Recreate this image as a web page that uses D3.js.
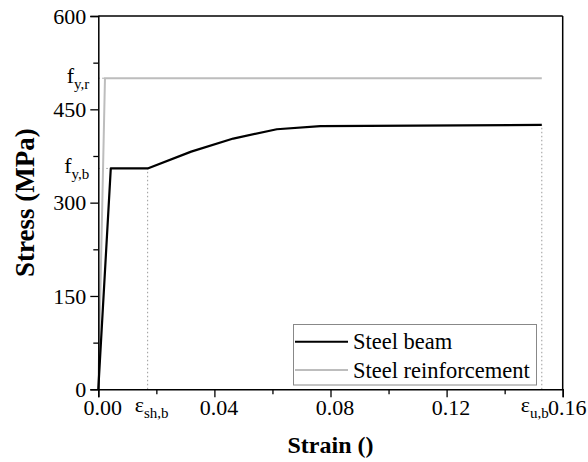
<!DOCTYPE html>
<html>
<head>
<meta charset="utf-8">
<script src="https://cdn.jsdelivr.net/npm/d3@7"></script>
<style>
html,body{margin:0;padding:0;background:#fff;}
svg{display:block;}
</style>
</head>
<body>
<svg id="chart" width="588" height="462"></svg>
<script>
// Data
const beamStrain = [0, 0.0043, 0.017, 0.032, 0.0465, 0.0615, 0.0765, 0.1528];
const beamStress = [0, 355, 355, 382, 403, 418, 423, 425];
const rebarStrain = [0, 0.0023, 0.1528];
const rebarStress = [0, 500, 500];
const xTicks = [0, 0.04, 0.08, 0.12, 0.16];
const xTickLabels = ["0.00", "0.04", "0.08", "0.12", "0.16"];
const xMinor = [0.02, 0.06, 0.10, 0.14];
const yTicks = [0, 150, 300, 450, 600];
const yMinor = [75, 225, 375, 525];
const fyb = 355, fyr = 500, epsSh = 0.017, epsU = 0.1528, fu = 425;
const seriesNames = ["Steel beam", "Steel reinforcement"];

const FONT = "'Liberation Serif', 'Times New Roman', Times, serif";
const svg = d3.select("#chart");
const L = 98.3, R = 562.7, T = 16, B = 389.3;
const x = d3.scaleLinear().domain([0, 0.16]).range([L, R]);
const y = d3.scaleLinear().domain([0, 600]).range([B, T]);

// dotted reference lines
const dot = svg.append("g").attr("stroke", "#999").attr("stroke-width", 1).attr("stroke-dasharray", "1.5,2.5").attr("fill", "none");
dot.append("line").attr("x1", x(epsSh)).attr("x2", x(epsSh)).attr("y1", y(0)).attr("y2", y(fyb));
dot.append("line").attr("x1", x(epsU)).attr("x2", x(epsU)).attr("y1", y(0)).attr("y2", y(fu));
dot.append("line").attr("x1", x(0)).attr("x2", x(0.0043)).attr("y1", y(fyb)).attr("y2", y(fyb));
dot.append("line").attr("x1", x(0)).attr("x2", x(0.0023)).attr("y1", y(fyr)).attr("y2", y(fyr));

// series
const line = d3.line().x(d => x(d[0])).y(d => y(d[1]));
svg.append("path").datum(rebarStrain.map((s, i) => [s, rebarStress[i]]))
  .attr("d", line).attr("fill", "none").attr("stroke", "#bdbdbd").attr("stroke-width", 2);
svg.append("path").datum(beamStrain.map((s, i) => [s, beamStress[i]]))
  .attr("d", line).attr("fill", "none").attr("stroke", "#000").attr("stroke-width", 2.2).attr("stroke-linejoin", "round");

// axes
const fs = 22;
const xAxis = svg.append("g").attr("transform", `translate(0,${B})`)
  .call(d3.axisBottom(x).tickValues(xTicks).tickFormat((d, i) => xTickLabels[i]).tickSize(8).tickPadding(2));
svg.append("g").attr("transform", `translate(0,${B})`)
  .call(d3.axisBottom(x).tickValues(xMinor).tickFormat("").tickSize(5))
  .call(g => g.select(".domain").remove());
xAxis.selectAll("text").attr("dx", 4).attr("dy", "0.71em");

const yAxis = svg.append("g").attr("transform", `translate(${L},0)`)
  .call(d3.axisLeft(y).tickValues(yTicks).tickSize(8).tickPadding(4));
svg.append("g").attr("transform", `translate(${L},0)`)
  .call(d3.axisLeft(y).tickValues(yMinor).tickFormat("").tickSize(5))
  .call(g => g.select(".domain").remove());

svg.selectAll(".tick text").attr("font-size", null).attr("fill", "#000")
  .style("font-family", FONT).style("font-size", fs + "px");
svg.selectAll(".domain").attr("stroke-width", 1.5);
svg.selectAll(".tick line").attr("stroke-width", 1.3);

// frame top & right
svg.append("line").attr("x1", L).attr("x2", R).attr("y1", T).attr("y2", T).attr("stroke", "#000").attr("stroke-width", 1.5);
svg.append("line").attr("x1", R).attr("x2", R).attr("y1", T).attr("y2", B).attr("stroke", "#000").attr("stroke-width", 1.5);

// special labels
function subLabel(xp, yp, anchor, main, sub) {
  const t = svg.append("text").attr("x", xp).attr("y", yp).attr("text-anchor", anchor)
    .style("font-family", FONT).style("font-size", fs + "px");
  t.append("tspan").text(main);
  t.append("tspan").style("font-size", "15px").attr("dy", 6).text(sub);
  return t;
}
subLabel(x(epsSh) + 4, 412, "middle", "ε", "sh,b");
subLabel(x(epsU) + 7, 412, "end", "ε", "u,b");
subLabel(L - 9, y(fyr) + 5, "end", "f", "y,r");
subLabel(L - 9, y(fyb) + 5, "end", "f", "y,b");

// axis titles
svg.append("text").attr("x", (L + R) / 2).attr("y", 453).attr("text-anchor", "middle")
  .style("font-family", FONT).style("font-size", "24px").style("font-weight", "bold").text("Strain ()");
svg.append("text").attr("transform", `translate(34,${(T + B) / 2}) rotate(-90)`).attr("text-anchor", "middle")
  .style("font-family", FONT).style("font-size", "27px").style("font-weight", "bold").text("Stress (MPa)");

// legend
const lg = svg.append("g");
lg.append("rect").attr("x", 293.5).attr("y", 324.5).attr("width", 243).attr("height", 60.5)
  .attr("fill", "#fff").attr("stroke", "#888").attr("stroke-width", 1);
const lgColors = ["#000", "#bdbdbd"];
const lgY = [341.7, 370];
seriesNames.forEach((n, i) => {
  lg.append("line").attr("x1", 295).attr("x2", 348).attr("y1", lgY[i]).attr("y2", lgY[i])
    .attr("stroke", lgColors[i]).attr("stroke-width", 2);
  lg.append("text").attr("x", 353).attr("y", lgY[i] + 7.5)
    .style("font-family", FONT).style("font-size", "22.5px").text(n);
});
</script>
</body>
</html>
